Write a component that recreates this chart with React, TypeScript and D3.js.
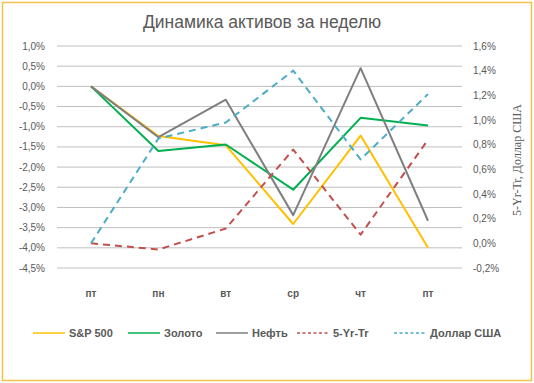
import React from 'react';
import * as d3 from 'd3';

const categories = ['пт', 'пн', 'вт', 'ср', 'чт', 'пт'];
const sp500 = [0, -1.23, -1.46, -3.41, -1.22, -4.0];
const gold = [0, -1.6, -1.44, -2.56, -0.78, -0.97];
const oil = [0, -1.26, -0.33, -3.19, 0.45, -3.33];
const tr5 = [0, -0.05, 0.12, 0.76, 0.07, 0.84];
const usd = [0, 0.85, 0.98, 1.4, 0.68, 1.21];
const leftTicks = [1.0, 0.5, 0.0, -0.5, -1.0, -1.5, -2.0, -2.5, -3.0, -3.5, -4.0, -4.5];
const rightTicks = [1.6, 1.4, 1.2, 1.0, 0.8, 0.6, 0.4, 0.2, 0.0, -0.2];

const series = [
  { name: 'S&P 500', values: sp500, color: '#FFC000', dash: '', axis: 'L' },
  { name: 'Золото', values: gold, color: '#00B050', dash: '', axis: 'L' },
  { name: 'Нефть', values: oil, color: '#7F7F7F', dash: '', axis: 'L' },
  { name: '5-Yr-Tr', values: tr5, color: '#C0504D', dash: '7,5', axis: 'R' },
  { name: 'Доллар США', values: usd, color: '#4BACC6', dash: '7,5', axis: 'R' },
];

const fmt = (v: number) => v.toFixed(1).replace('.', ',') + '%';

export default function App() {
  const x = d3.scalePoint<number>().domain(d3.range(categories.length)).range([91, 428]);
  const yL = d3.scaleLinear().domain([-4.5, 1.0]).range([268, 46]);
  const yR = d3.scaleLinear().domain([-0.2, 1.6]).range([268, 46]);
  const font = 'Liberation Sans, Arial, sans-serif';
  const legendX = [33, 128, 216, 297, 394];
  return (
    <svg width={534} height={383} style={{ position: 'absolute', left: 0, top: 0 }}>
      <rect x={0} y={0} width={534} height={383} fill="#fff" />
      <rect x={2.5} y={2.5} width={529} height={378} fill="none" stroke="#F2C24A" strokeWidth={1.5} />
      <text x={262} y={28} textAnchor="middle" fontFamily={font} fontSize={17.5} fill="#595959">
        Динамика активов за неделю
      </text>
      {leftTicks.map((t) => (
        <g key={'l' + t}>
          <line x1={57} x2={462} y1={yL(t)} y2={yL(t)} stroke="#BFBFBF" strokeWidth={1} />
          <text x={45} y={yL(t) + 3.5} textAnchor="end" fontFamily={font} fontSize={10} fill="#595959">
            {fmt(t)}
          </text>
        </g>
      ))}
      {rightTicks.map((t) => (
        <text key={'r' + t} x={473} y={yR(t) + 3.5} textAnchor="start" fontFamily={font} fontSize={10} fill="#595959">
          {fmt(t)}
        </text>
      ))}
      <text
        transform={`translate(521,160) rotate(-90)`}
        textAnchor="middle"
        fontFamily="Liberation Serif, Times New Roman, serif"
        fontSize={12}
        fill="#595959"
      >
        5-Yr-Tr, Доллар США
      </text>
      {categories.map((c, i) => (
        <text key={'c' + i} x={x(i)} y={297} textAnchor="middle" fontFamily={font} fontSize={10} fontWeight="bold" fill="#595959">
          {c}
        </text>
      ))}
      {series.map((s) => {
        const y = s.axis === 'L' ? yL : yR;
        const line = d3
          .line<number>()
          .x((_, i) => x(i) as number)
          .y((v) => y(v));
        return (
          <path
            key={s.name}
            d={line(s.values) || ''}
            fill="none"
            stroke={s.color}
            strokeWidth={2}
            strokeDasharray={s.dash}
            strokeLinejoin="round"
          />
        );
      })}
      {series.map((s, i) => (
        <g key={'lg' + s.name}>
          <line x1={legendX[i]} x2={legendX[i] + 32} y1={333} y2={333} stroke={s.color} strokeWidth={1.5} strokeDasharray={s.dash ? '3,2.5' : ''} />
          <text x={legendX[i] + 36} y={337} fontFamily={font} fontSize={11} fontWeight="bold" fill="#595959">
            {s.name}
          </text>
        </g>
      ))}
    </svg>
  );
}
